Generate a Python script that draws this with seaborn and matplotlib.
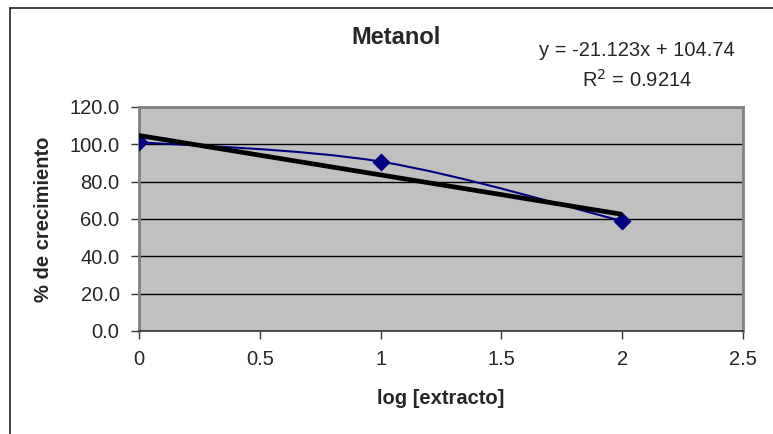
import matplotlib
matplotlib.use("Agg")
import matplotlib.pyplot as plt
from matplotlib.path import Path
from matplotlib.patches import PathPatch, Rectangle
import seaborn as sns
import pandas as pd
import numpy as np

# datos del gráfico
log_extracto = [0, 1, 2]
crecimiento = [101.18, 90.74, 58.93]
y_ticks = [0, 20, 40, 60, 80, 100, 120]
x_ticks = [0, 0.5, 1, 1.5, 2, 2.5]
ecuacion = 'y = -21.123x + 104.74'
r_cuadrado = 'R$^2$ = 0.9214'

df = pd.DataFrame({'log [extracto]': log_extracto, '% de crecimiento': crecimiento})

sns.set_style('white')
plt.rcParams['font.family'] = ['Liberation Sans', 'DejaVu Sans']

fig = plt.figure(figsize=(7.73, 4.34), dpi=100)
ax = fig.add_axes([139 / 773, 1 - 331 / 434, 604 / 773, 224 / 434])
ax.set_facecolor('#C0C0C0')

# línea suavizada estilo Excel (Bezier entre los puntos)
pts = np.column_stack([log_extracto, crecimiento]).astype(float)
ext = np.vstack([pts[0], pts, pts[-1]])
verts = [tuple(pts[0])]
codes = [Path.MOVETO]
for i in range(len(pts) - 1):
    p0, p1, p2, p3 = ext[i], ext[i + 1], ext[i + 2], ext[i + 3]
    c1 = p1 + (p2 - p0) / 6
    c2 = p2 - (p3 - p1) / 6
    verts += [tuple(c1), tuple(c2), tuple(p2)]
    codes += [Path.CURVE4] * 3
ax.add_patch(PathPatch(Path(verts, codes), facecolor='none', edgecolor='#000080', lw=1.5, zorder=3))

sns.scatterplot(data=df, x='log [extracto]', y='% de crecimiento', marker='D', s=85,
                color='#000080', edgecolor='#000080', linewidth=0, zorder=4, ax=ax)

# línea de tendencia lineal
sns.regplot(data=df, x='log [extracto]', y='% de crecimiento', scatter=False, ci=None,
            truncate=True, color='black', line_kws={'lw': 3.4, 'zorder': 5, 'solid_capstyle': 'butt'}, ax=ax)

ax.set_xlim(0, 2.5)
ax.set_ylim(0, 120)
ax.set_xticks(x_ticks)
ax.set_xticklabels([f'{t:g}' for t in x_ticks], fontsize=14.5)
ax.set_yticks(y_ticks)
ax.set_yticklabels([f'{t:.1f}' for t in y_ticks], fontsize=14.5)
ax.yaxis.grid(True, color='black', lw=1)
ax.set_axisbelow(True)
ax.tick_params(axis='both', direction='out', length=6, width=1, color='#333333', pad=8,
               bottom=True, left=True)
for side, sp in ax.spines.items():
    sp.set_color('#808080')
    sp.set_linewidth(2)
ax.spines['bottom'].set_color('#333333')
ax.spines['bottom'].set_linewidth(1.2)

ax.set_xlabel('log [extracto]', fontsize=14.5, fontweight='bold', labelpad=14)
ax.set_ylabel('% de crecimiento', fontsize=14.5, fontweight='bold', labelpad=12)

fig.text(396 / 773, 1 - 38 / 434, 'Metanol', fontsize=17, fontweight='bold', ha='center', va='center')
fig.text(637 / 773, 1 - 50 / 434, ecuacion, fontsize=14.5, ha='center', va='center')
fig.text(637 / 773, 1 - 80 / 434, r_cuadrado, fontsize=14.5, ha='center', va='center')

# borde del área del gráfico
fig.add_artist(Rectangle((10 / 773, -0.1), 1.2, 1.1 - 8 / 434, transform=fig.transFigure,
                         fill=False, edgecolor='#222222', lw=1.2))

fig.savefig('out.png', dpi=100)
